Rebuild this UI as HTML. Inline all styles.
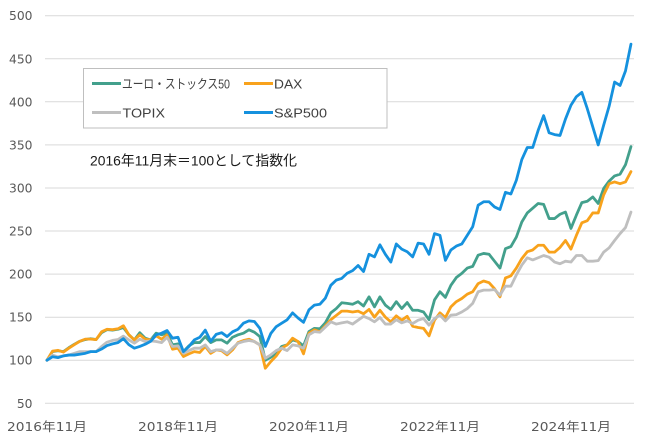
<!DOCTYPE html>
<html>
<head>
<meta charset="utf-8">
<style>
html,body{margin:0;padding:0;background:#fff;}
svg{display:block;}
.yl{font-family:"DejaVu Sans","Liberation Sans",sans-serif;font-size:12.3px;fill:#595959;}
.xl{font-family:"DejaVu Sans","Noto Sans CJK JP",sans-serif;font-size:12.5px;fill:#595959;}
.lg{font-family:"Liberation Sans","Noto Sans CJK JP",sans-serif;font-size:13px;fill:#404040;}
.an{font-family:"Liberation Sans","Noto Sans CJK JP",sans-serif;font-size:14px;fill:#1a1a1a;}
.s{fill:none;stroke-width:2.8;stroke-linejoin:round;stroke-linecap:round;vector-effect:non-scaling-stroke;}
</style>
</head>
<body>
<svg width="650" height="445" viewBox="0 0 650 445" xmlns="http://www.w3.org/2000/svg">
<rect width="650" height="445" fill="#fff"/>
<g stroke="#D9D9D9" stroke-width="1">
<line x1="45" x2="634" y1="15.7" y2="15.7"/>
<line x1="45" x2="634" y1="58.8" y2="58.8"/>
<line x1="45" x2="634" y1="101.8" y2="101.8"/>
<line x1="45" x2="634" y1="144.9" y2="144.9"/>
<line x1="45" x2="634" y1="188.0" y2="188.0"/>
<line x1="45" x2="634" y1="231.0" y2="231.0"/>
<line x1="45" x2="634" y1="274.1" y2="274.1"/>
<line x1="45" x2="634" y1="317.2" y2="317.2"/>
<line x1="45" x2="634" y1="360.2" y2="360.2"/>
<line x1="45" x2="634" y1="403.3" y2="403.3"/>
</g>
<g class="yl" text-anchor="end">
<text x="32.5" y="20.2">500</text>
<text x="32.5" y="63.3">450</text>
<text x="32.5" y="106.3">400</text>
<text x="32.5" y="149.4">350</text>
<text x="32.5" y="192.5">300</text>
<text x="32.5" y="235.5">250</text>
<text x="32.5" y="278.6">200</text>
<text x="32.5" y="321.7">150</text>
<text x="32.5" y="364.7">100</text>
<text x="32.5" y="407.8">50</text>
</g>
<g class="xl">
<text x="7" y="431" textLength="80" lengthAdjust="spacingAndGlyphs">2016年11月</text>
<text x="138" y="431" textLength="80" lengthAdjust="spacingAndGlyphs">2018年11月</text>
<text x="269" y="431" textLength="80" lengthAdjust="spacingAndGlyphs">2020年11月</text>
<text x="400" y="431" textLength="80" lengthAdjust="spacingAndGlyphs">2022年11月</text>
<text x="531" y="431" textLength="80" lengthAdjust="spacingAndGlyphs">2024年11月</text>
</g>
<g transform="matrix(5.4576 0 0 -0.8613 47 446.365)">
<polyline class="s" stroke="#43A08C" points="0,100 1,110 2,111 3,110 4,114.5 5,118.5 6,122 7,124 8,125 9,124 10,132 11,135.5 12,135 13,136 14,138 15,129.5 16,123.6 17,132 18,125.6 19,123.6 20,131.4 21,129.5 22,131.4 23,117.8 24,119 25,110 26,116.7 27,120.5 28,120.5 29,127.5 30,120.5 31,123.6 32,123.6 33,119.8 34,126.7 35,129.5 36,131.4 37,135.3 38,132.6 39,127.5 40,100 41,103.5 42,108 43,116 44,117.8 45,123.6 46,121.7 47,116.7 48,133.3 49,137 50,136.5 51,143.5 52,155 53,160 54,166.7 55,166 56,165 57,168 58,163 59,173.6 60,162 61,173.6 62,164 63,159 64,168 65,160 66,167 67,158 68,158 69,156 70,147 71,170 72,179.5 73,173 74,187 75,196 76,200.8 77,207 78,209 79,222 80,224 81,223 82,215 83,207 84,229.5 85,232 86,243 87,260.5 88,271 89,276.5 90,282 91,281 92,264.5 93,264.5 94,269.5 95,272 96,253 97,268.5 98,283 99,284.6 100,289.6 101,282 102,299.4 103,308 104,314 105,316 106,327 107,348"/>
<polyline class="s" stroke="#F8A21C" points="0,100 1,110.5 2,111.5 3,109.5 4,114 5,118 6,122 7,124.5 8,124.5 9,124 10,133 11,136 12,135.5 13,136.5 14,140 15,129.5 16,123.6 17,129.5 18,124.4 19,123.6 20,128.3 21,124.4 22,129.5 23,112.8 24,114 25,104.3 26,107.4 27,110 28,109 29,116 30,108 31,112 32,111 33,106.2 34,112 35,120.5 36,122.9 37,124.4 38,121.7 39,117.8 40,90.7 41,98.4 42,105 43,114 44,117.8 45,125.6 46,121.7 47,107.4 48,131.4 49,135.3 50,133 51,140 52,147 53,152 54,157 55,157 56,156 57,157 58,154 59,159 60,150 61,158 62,150 63,144.6 64,151.5 65,146.5 66,151 67,139.5 68,138 69,137 70,128.3 71,146.5 72,155 73,149.6 74,162 75,168 76,171.7 77,176.7 78,179.5 79,189 80,192 81,190 82,183 83,173.6 84,195.5 85,198 86,207 87,218 88,226 89,228 90,233.5 91,233.5 92,225.5 93,225.5 94,231 95,239 96,229 97,245 98,259.5 99,262 100,271 101,271 102,292 103,305 104,307 105,305 106,307 107,319"/>
<polyline class="s" stroke="#BFBFBF" points="0,100 1,106 2,104 3,105 4,106 5,108 6,110 7,110 8,110 9,110 10,116 11,121 12,123 13,124 14,128 15,123.6 16,119.8 17,124.4 18,121.7 19,122.5 20,121.7 21,120.5 22,126.7 23,116 24,116.7 25,108 26,111.2 27,114 28,114 29,117.8 30,110 31,112 32,112 33,108 34,114 35,119.8 36,121.7 37,122.9 38,121.7 39,117.8 40,102.3 41,106.2 42,111.2 43,114 44,111.2 45,117.8 46,116.7 47,114 48,129.5 49,133.3 50,132.5 51,138.5 52,144.6 53,142 54,143.4 55,144.6 56,142 57,146.5 58,151 59,148.4 60,144.6 61,149.6 62,142 63,142 64,147 65,143.4 66,145.7 67,142.6 68,146.5 69,148.4 70,140.7 71,148.4 72,152.3 73,145.7 74,152.3 75,153 76,156 77,160 78,166 79,179.5 80,181.4 81,181.4 82,182 83,175.6 84,186 85,186 86,199 87,210.5 88,219 89,216.5 90,219 91,221.6 92,219.6 93,214 94,212 95,215 96,214 97,221.6 98,221.6 99,215 100,215 101,215.7 102,225.5 103,230.5 104,239 105,247 106,254 107,272"/>
<polyline class="s" stroke="#1591DE" points="0,100 1,104 2,103 3,105 4,106 5,106 6,107 7,108 8,110 9,110 10,113 11,117 12,119 13,120.5 14,125 15,118 16,114 17,116 18,118.6 19,122 20,129.5 21,131.4 22,134.5 23,125.6 24,126.7 25,110 26,116 27,123.6 28,126.7 29,135 30,122 31,130 32,132 33,127.5 34,133 35,136 36,143 37,145.7 38,145 39,137 40,116 41,131 42,139 43,143 44,147 45,155 46,149 47,144 48,158.5 49,164 50,165 51,172 52,187 53,193 54,195 55,201 56,204 57,210 58,203 59,223 60,220 61,234 62,223 63,214 64,235 65,229 66,226 67,220 68,236 69,235 70,223 71,247 72,245 73,216 74,228 75,232.5 76,235 77,245 78,255 79,280 80,284 81,284 82,278 83,275 84,295 85,293 86,309 87,333 88,347 89,347 90,367 91,384 92,364 93,362 94,361 95,380 96,396 97,406 98,411 99,392 100,371 101,350 102,373 103,395 104,423 105,419 106,436 107,467"/>
</g>
<rect x="83.5" y="68.5" width="303.5" height="59.5" fill="#fff" stroke="#BFBFBF" stroke-width="1"/>
<g stroke-width="3">
<line x1="92" x2="121" y1="83.5" y2="83.5" stroke="#43A08C"/>
<line x1="244" x2="273" y1="83.5" y2="83.5" stroke="#F8A21C"/>
<line x1="92" x2="121" y1="112.5" y2="112.5" stroke="#BFBFBF"/>
<line x1="244" x2="273" y1="112.5" y2="112.5" stroke="#1591DE"/>
</g>
<g class="lg">
<text x="122" y="88.5" textLength="108" lengthAdjust="spacingAndGlyphs">ユーロ・ストックス50</text>
<text x="274" y="88.5" textLength="28.3" lengthAdjust="spacingAndGlyphs">DAX</text>
<text x="122.5" y="117.7" textLength="42.5" lengthAdjust="spacingAndGlyphs">TOPIX</text>
<text x="274" y="117.7" textLength="53" lengthAdjust="spacingAndGlyphs">S&amp;P500</text>
</g>
<text class="an" x="90" y="165.5" textLength="207" lengthAdjust="spacingAndGlyphs">2016年11月末＝100として指数化</text>
</svg>
</body>
</html>
